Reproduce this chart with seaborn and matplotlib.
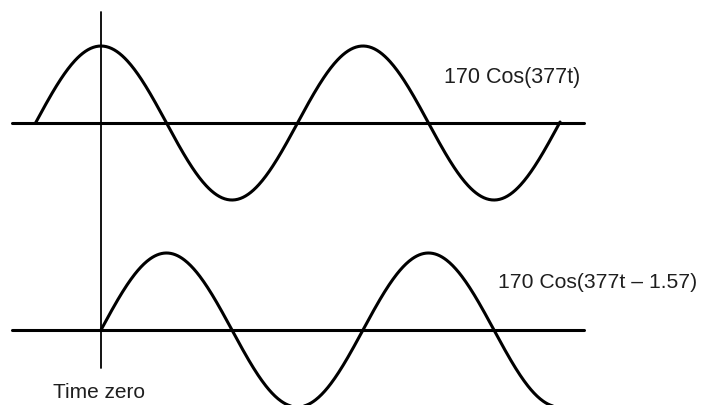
import numpy as np
import pandas as pd
import matplotlib
matplotlib.use("Agg")
import matplotlib.pyplot as plt
import seaborn as sns

# wave parameters
amplitude = 170.0          # volts
omega = 377.0              # rad/s
phases = [0.0, 1.57]       # rad, top and bottom wave
labels = ["170 Cos(377t)", "170 Cos(377t \u2013 1.57)"]
time_label = "Time zero"

# time ranges shown for each wave (ms)
t_start = [-4.17, 0.0]
t_end = [29.2, 29.2]

# layout: baseline offsets of the two traces (data units)
offsets = [0.0, -457.0]

sns.set_theme(style="white")
plt.rcParams["font.family"] = ["Liberation Sans", "DejaVu Sans"]

fig = plt.figure(figsize=(7.04, 4.05), dpi=100)
ax = fig.add_axes([0, 0, 1, 1])

rows = []
for i in range(2):
    t = np.linspace(t_start[i], t_end[i], 600)
    v = amplitude * np.cos(omega * t / 1000.0 - phases[i]) + offsets[i]
    rows.append(pd.DataFrame({"t": t, "v": v, "wave": labels[i]}))
df = pd.concat(rows, ignore_index=True)

sns.lineplot(data=df, x="t", y="v", units="wave", estimator=None,
             color="black", linewidth=2.2, sort=False, ax=ax, legend=False)

# time axes and the time-zero line
px_per_ms = 41.7 * omega / 1000.0
for off in offsets:
    ax.plot([-89 / px_per_ms, 483 / px_per_ms], [off, off], color="black", linewidth=2.2)
ax.plot([0, 0], [245, -541], color="black", linewidth=1.3)

ax.set_xlim(-101 / px_per_ms, 603 / px_per_ms)
ax.set_ylim(-622.6, 271.6)
ax.axis("off")

fig.text(444 / 704, 1 - 77 / 405, labels[0], fontsize=15.5, color="#1e1e1e", va="center")
fig.text(498 / 704, 1 - 283 / 405, labels[1], fontsize=15.2, color="#1e1e1e", va="center")
fig.text(53 / 704, 1 - 392 / 405, time_label, fontsize=15, color="#1e1e1e", va="center")

fig.savefig("out.png", dpi=100, facecolor="white")
